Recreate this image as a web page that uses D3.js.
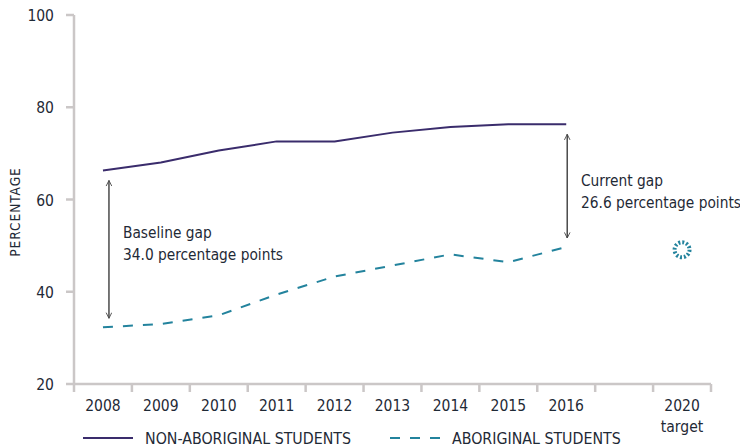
<!DOCTYPE html>
<html>
<head>
<meta charset="utf-8">
<script src="https://cdn.jsdelivr.net/npm/d3@7"></script>
<style>
	body { margin: 0; background: #fff; }
	svg text { font-family: 'DejaVu Sans Condensed', 'DejaVu Sans', sans-serif; fill: #1f2a36; }
</style>
</head>
<body>
<svg id="chart" width="740" height="448"></svg>
<script>
const years = ['2008', '2009', '2010', '2011', '2012', '2013', '2014', '2015', '2016']
const bands = ['2008', '2009', '2010', '2011', '2012', '2013', '2014', '2015', '2016', '', '2020']
const nonAboriginal = [66.3, 68.0, 70.6, 72.6, 72.6, 74.5, 75.7, 76.3, 76.3]
const aboriginal = [32.3, 33.0, 34.9, 39.4, 43.3, 45.7, 48.1, 46.4, 49.7]
const target = [{ year: '2020', value: 49.1 }]
const yTicks = [20, 40, 60, 80, 100]

const purple = '#3a2c6c'
const teal = '#23839d'
const axisGrey = '#cbc7c7'

const svg = d3.select('#chart')

const x = d3.scaleBand()
	.domain(bands)
	.range([74, 711])

const y = d3.scaleLinear()
	.domain([20, 100])
	.range([384, 15])

const cx = d => x(d) + x.bandwidth() / 2

// axes
svg.append('line')
	.attr('x1', 74).attr('x2', 74)
	.attr('y1', y(100)).attr('y2', y(20))
	.attr('stroke', axisGrey).attr('stroke-width', 2.5)

svg.append('line')
	.attr('x1', 74).attr('x2', 711)
	.attr('y1', y(20)).attr('y2', y(20))
	.attr('stroke', axisGrey).attr('stroke-width', 2.5)

svg.selectAll('.ytick')
	.data(yTicks)
	.enter()
	.append('line')
	.attr('x1', 66).attr('x2', 74)
	.attr('y1', d => y(d)).attr('y2', d => y(d))
	.attr('stroke', axisGrey).attr('stroke-width', 2.5)

svg.selectAll('.ylabel')
	.data(yTicks)
	.enter()
	.append('text')
	.attr('x', 54)
	.attr('y', d => y(d) + 6)
	.attr('text-anchor', 'end')
	.style('font-size', '15.5px')
	.text(d => d)

const edges = bands.map(b => x(b)).concat([x.range()[1]])
svg.selectAll('.xtick')
	.data(edges)
	.enter()
	.append('line')
	.attr('x1', d => d).attr('x2', d => d)
	.attr('y1', y(20)).attr('y2', y(20) + 8)
	.attr('stroke', axisGrey).attr('stroke-width', 2.5)

svg.selectAll('.xlabel')
	.data(bands.filter(b => b !== ''))
	.enter()
	.append('text')
	.attr('x', cx)
	.attr('y', 411)
	.attr('text-anchor', 'middle')
	.style('font-size', '15.5px')
	.text(d => d)

svg.append('text')
	.attr('x', cx('2020'))
	.attr('y', 432)
	.attr('text-anchor', 'middle')
	.style('font-size', '15.5px')
	.text('target')

svg.append('text')
	.attr('transform', 'translate(20,' + 212 + ') rotate(-90)')
	.attr('text-anchor', 'middle')
	.style('font-size', '13.5px')
	.style('letter-spacing', '1px')
	.text('PERCENTAGE')

// lines
const line = d3.line()
	.x((d, i) => cx(years[i]))
	.y(d => y(d))
	.curve(d3.curveLinear)

svg.append('path')
	.attr('d', line(nonAboriginal))
	.attr('fill', 'none')
	.attr('stroke', purple)
	.attr('stroke-width', 2)

svg.append('path')
	.attr('d', line(aboriginal))
	.attr('fill', 'none')
	.attr('stroke', teal)
	.attr('stroke-width', 2)
	.attr('stroke-dasharray', '10,10')

// target marker
const tr = 7.5
svg.selectAll('.target')
	.data(target)
	.enter()
	.append('circle')
	.attr('cx', d => cx(d.year))
	.attr('cy', d => y(d.value))
	.attr('r', tr)
	.attr('fill', 'none')
	.attr('stroke', teal)
	.attr('stroke-width', 4)
	.attr('stroke-dasharray', (2 * Math.PI * tr / 12 * 0.5) + ',' + (2 * Math.PI * tr / 12 * 0.5))

// gap arrows
const defs = svg.append('defs')
defs.append('marker')
	.attr('id', 'head')
	.attr('viewBox', '0 0 10 10')
	.attr('refX', 9).attr('refY', 5)
	.attr('markerWidth', 7).attr('markerHeight', 7)
	.attr('orient', 'auto-start-reverse')
	.attr('markerUnits', 'userSpaceOnUse')
	.append('path')
	.attr('d', 'M1,1 L9,5 L1,9')
	.attr('fill', 'none')
	.attr('stroke', '#4a4a4a')
	.attr('stroke-width', 1.3)

const gaps = [
	{ year: '2008', hi: nonAboriginal[0], lo: aboriginal[0], dx: 6, label: ['Baseline gap', '34.0 percentage points'], tx: 123, ty: 238 },
	{ year: '2016', hi: nonAboriginal[8], lo: aboriginal[8], dx: 1, label: ['Current gap', '26.6 percentage points'], tx: 581, ty: 186 }
]

svg.selectAll('.gap')
	.data(gaps)
	.enter()
	.append('line')
	.attr('x1', d => cx(d.year) + d.dx).attr('x2', d => cx(d.year) + d.dx)
	.attr('y1', d => y(d.hi) + 10).attr('y2', d => y(d.lo) - 9)
	.attr('stroke', '#4a4a4a')
	.attr('stroke-width', 1.5)
	.attr('marker-start', 'url(#head)')
	.attr('marker-end', 'url(#head)')

const gapText = svg.selectAll('.gaptext')
	.data(gaps)
	.enter()
	.append('text')
	.attr('x', d => d.tx)
	.attr('y', d => d.ty)
	.style('font-size', '15.3px')

gapText.selectAll('tspan')
	.data(d => d.label.map(t => ({ t, x: d.tx })))
	.enter()
	.append('tspan')
	.attr('x', d => d.x)
	.attr('dy', (d, i) => i === 0 ? 0 : 22)
	.text(d => d.t)

// legend
const legend = [
	{ name: 'NON-ABORIGINAL STUDENTS', color: purple, dash: null, x: 83 },
	{ name: 'ABORIGINAL STUDENTS', color: teal, dash: '10,10', x: 390 }
]

const lg = svg.selectAll('.legend')
	.data(legend)
	.enter()
	.append('g')

lg.append('line')
	.attr('x1', d => d.x).attr('x2', d => d.x + 50)
	.attr('y1', 438).attr('y2', 438)
	.attr('stroke', d => d.color)
	.attr('stroke-width', 2)
	.attr('stroke-dasharray', d => d.dash)

lg.append('text')
	.attr('x', d => d.x + 62)
	.attr('y', 444)
	.style('font-size', '15.8px')
	.text(d => d.name)
</script>
</body>
</html>
